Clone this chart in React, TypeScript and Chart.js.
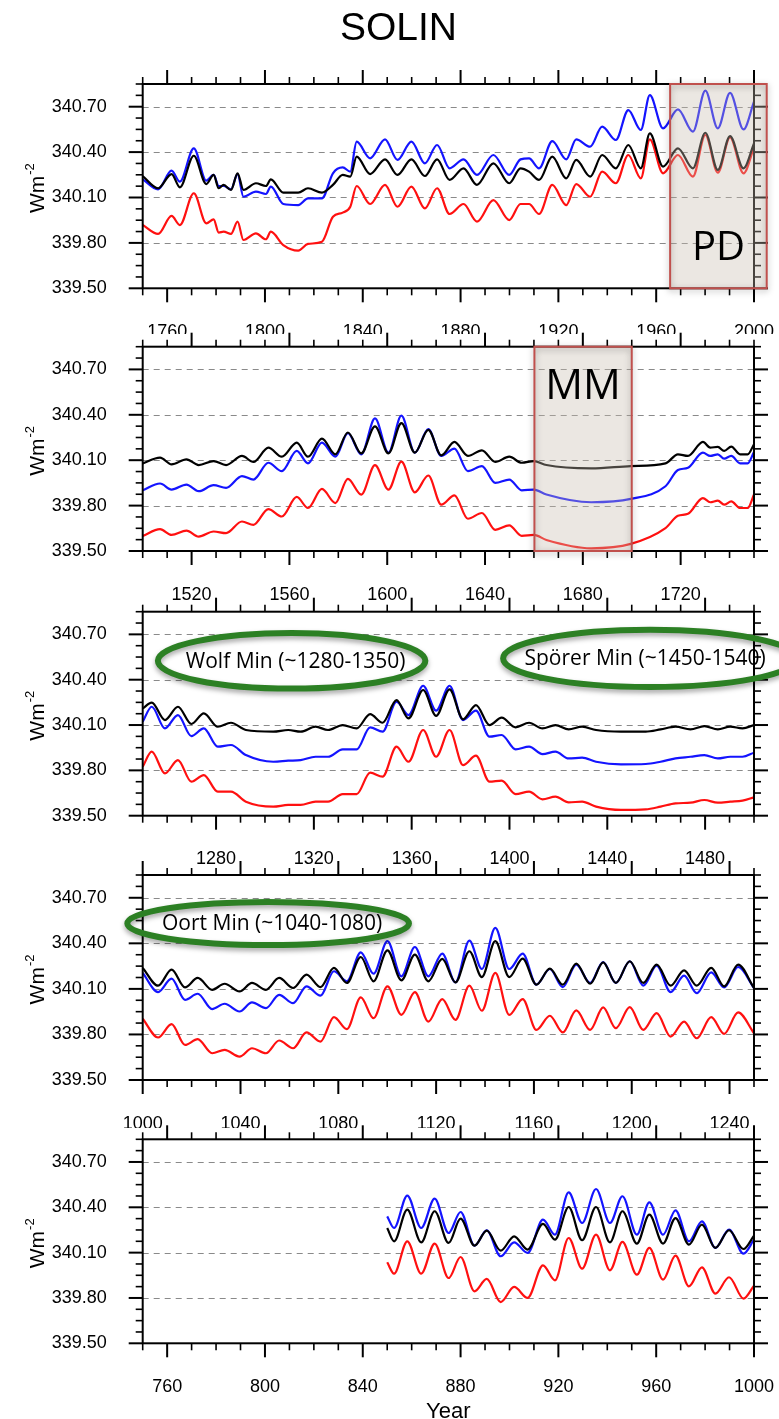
import React, { useEffect, useRef } from 'react';
import { Chart, registerables } from 'chart.js';

Chart.register(...registerables);

const FONT = "'Liberation Sans', Arial, Helvetica, sans-serif";
const CALLOUT_FONT = "'Open Sans', 'Liberation Sans', sans-serif";

// ---------- data ----------
const YEARS_P1 = [1750, 1756.3, 1761.8, 1765.2, 1770.9, 1776, 1779, 1781.1, 1783.1, 1786.1, 1788.8, 1791.2, 1796.3, 1800.4, 1802.4, 1807.5, 1813.6, 1817.6, 1823.3, 1827.8, 1831.8, 1834.9, 1837.5, 1843, 1849.1, 1854.2, 1859.9, 1865.4, 1870.4, 1875.5, 1881.2, 1886.7, 1893.4, 1899.9, 1904.5, 1908, 1912.1, 1917.5, 1923.2, 1927.3, 1933, 1937.9, 1943.5, 1948.6, 1953.7, 1957.4, 1962.8, 1968.9, 1975, 1980.1, 1985.2, 1990.2, 1995.7, 2000];
const BLUE_P1 = [340.22, 340.154, 340.277, 340.205, 340.425, 340.211, 340.249, 340.176, 340.176, 340.154, 340.255, 340.105, 340.139, 340.123, 340.172, 340.057, 340.05, 340.094, 340.094, 340.26, 340.299, 340.271, 340.469, 340.359, 340.484, 340.348, 340.469, 340.326, 340.447, 340.293, 340.352, 340.249, 340.381, 340.249, 340.352, 340.359, 340.293, 340.472, 340.352, 340.484, 340.436, 340.568, 340.48, 340.678, 340.546, 340.777, 340.557, 340.682, 340.535, 340.806, 340.557, 340.792, 340.55, 340.733];
const BLACK_P1 = [340.242, 340.161, 340.255, 340.167, 340.376, 340.189, 340.249, 340.161, 340.183, 340.15, 340.26, 340.15, 340.194, 340.176, 340.22, 340.132, 340.132, 340.161, 340.132, 340.183, 340.249, 340.238, 340.37, 340.255, 340.352, 340.249, 340.352, 340.242, 340.352, 340.216, 340.293, 340.183, 340.326, 340.194, 340.293, 340.271, 340.216, 340.37, 340.227, 340.348, 340.238, 340.381, 340.293, 340.447, 340.293, 340.524, 340.304, 340.425, 340.293, 340.528, 340.282, 340.506, 340.293, 340.458];
const RED_P1 = [339.918, 339.859, 339.978, 339.918, 340.128, 339.929, 339.956, 339.868, 339.874, 339.859, 339.94, 339.819, 339.863, 339.824, 339.874, 339.786, 339.749, 339.793, 339.808, 339.973, 340.0, 340.039, 340.176, 340.057, 340.183, 340.039, 340.172, 340.028, 340.161, 339.991, 340.057, 339.94, 340.083, 339.951, 340.057, 340.057, 339.991, 340.183, 340.05, 340.189, 340.105, 340.271, 340.194, 340.381, 340.227, 340.484, 340.26, 340.381, 340.238, 340.513, 340.264, 340.497, 340.26, 340.431];

const YEARS_P2 = [1500, 1507.1, 1511.8, 1517.9, 1522.9, 1529, 1534.1, 1540.6, 1545.3, 1551.4, 1556.9, 1563, 1567.6, 1573.3, 1578.8, 1583.9, 1589.4, 1595, 1600.5, 1605.8, 1611.3, 1616.8, 1622.1, 1627.5, 1633, 1638.7, 1644.2, 1649.9, 1655, 1660, 1665.1, 1683.4, 1699.6, 1713.8, 1718.9, 1723, 1729.1, 1732.1, 1735.2, 1737.8, 1740.7, 1744.3, 1747.4, 1750];
const BLUE_P2 = [339.901, 339.946, 339.906, 339.939, 339.895, 339.935, 339.917, 339.995, 339.972, 340.083, 340.028, 340.161, 340.079, 340.216, 340.123, 340.279, 340.139, 340.376, 340.15, 340.394, 340.15, 340.305, 340.128, 340.177, 340.028, 340.061, 339.95, 339.972, 339.901, 339.906, 339.873, 339.822, 339.844, 339.928, 340.035, 340.05, 340.15, 340.128, 340.139, 340.11, 340.128, 340.079, 340.079, 340.154];
const BLACK_P2 = [340.079, 340.117, 340.072, 340.106, 340.068, 340.094, 340.068, 340.128, 340.088, 340.183, 340.123, 340.216, 340.123, 340.243, 340.139, 340.283, 340.145, 340.323, 340.145, 340.345, 340.15, 340.301, 340.132, 340.221, 340.128, 340.165, 340.088, 340.123, 340.083, 340.094, 340.068, 340.046, 340.061, 340.079, 340.139, 340.128, 340.221, 340.183, 340.188, 340.161, 340.19, 340.139, 340.139, 340.205];
const RED_P2 = [339.6, 339.644, 339.606, 339.635, 339.595, 339.629, 339.618, 339.695, 339.673, 339.777, 339.728, 339.857, 339.784, 339.91, 339.817, 339.977, 339.873, 340.068, 339.906, 340.09, 339.888, 339.999, 339.806, 339.868, 339.713, 339.751, 339.64, 339.669, 339.6, 339.606, 339.573, 339.518, 339.547, 339.651, 339.733, 339.746, 339.85, 339.822, 339.833, 339.806, 339.828, 339.784, 339.784, 339.873];

const YEARS_P3 = [1250, 1253.7, 1259.1, 1264.4, 1269.9, 1275, 1280.7, 1286.1, 1292.2, 1303.4, 1309.5, 1314.6, 1320.7, 1325.8, 1331.8, 1337.5, 1343, 1348.1, 1353.8, 1358.7, 1364.7, 1370, 1375.5, 1381, 1386.3, 1391.8, 1396.8, 1402.5, 1408, 1413.5, 1418.8, 1424.2, 1429.7, 1435.4, 1445.6, 1455.7, 1461.8, 1467.9, 1474, 1479.7, 1485.2, 1490.3, 1495.3, 1500];
const BLUE_P3 = [340.122, 340.221, 340.078, 340.166, 340.027, 340.078, 339.957, 339.968, 339.901, 339.857, 339.864, 339.868, 339.89, 339.89, 339.939, 339.939, 340.085, 340.056, 340.254, 340.166, 340.36, 340.195, 340.36, 340.133, 340.195, 340.023, 340.034, 339.939, 339.957, 339.908, 339.924, 339.879, 339.884, 339.857, 339.84, 339.842, 339.857, 339.879, 339.89, 339.901, 339.879, 339.89, 339.89, 339.917];
const BLACK_P3 = [340.21, 340.248, 340.133, 340.221, 340.107, 340.177, 340.089, 340.115, 340.067, 340.056, 340.067, 340.056, 340.089, 340.067, 340.1, 340.078, 340.172, 340.115, 340.265, 340.144, 340.332, 340.16, 340.336, 340.138, 340.232, 340.1, 340.149, 340.085, 340.115, 340.078, 340.1, 340.071, 340.089, 340.067, 340.056, 340.056, 340.071, 340.089, 340.071, 340.093, 340.071, 340.089, 340.078, 340.1];
const RED_P3 = [339.824, 339.924, 339.78, 339.868, 339.725, 339.769, 339.659, 339.659, 339.593, 339.56, 339.571, 339.571, 339.593, 339.593, 339.643, 339.643, 339.785, 339.758, 339.957, 339.857, 340.067, 339.89, 340.067, 339.835, 339.897, 339.725, 339.732, 339.643, 339.659, 339.608, 339.626, 339.588, 339.593, 339.56, 339.538, 339.542, 339.56, 339.582, 339.586, 339.604, 339.586, 339.593, 339.6, 339.622];

const YEARS_P4 = [1000, 1006.3, 1011.8, 1017.3, 1022.5, 1028.4, 1033.5, 1039.6, 1044.7, 1050.4, 1055.8, 1061.5, 1067, 1072.7, 1078.2, 1083.5, 1089.2, 1094.4, 1100.1, 1105.8, 1111.3, 1116.8, 1122.5, 1127.9, 1133.6, 1138.7, 1144.2, 1149.9, 1155.4, 1161, 1166.5, 1171.8, 1177.3, 1183, 1188.3, 1193.5, 1199.2, 1204.7, 1210.2, 1215.9, 1221.4, 1226.6, 1232.5, 1237.8, 1243.5, 1250];
const BLUE_P4 = [340.205, 340.079, 340.167, 340.028, 340.068, 339.967, 340.002, 339.951, 340.011, 339.973, 340.061, 340.006, 340.117, 340.055, 340.216, 340.15, 340.341, 340.2, 340.414, 340.183, 340.376, 340.183, 340.332, 340.143, 340.418, 340.231, 340.502, 340.231, 340.332, 340.128, 340.231, 340.112, 340.26, 340.139, 340.277, 340.139, 340.282, 340.121, 340.253, 340.079, 340.187, 340.072, 340.209, 340.11, 340.244, 340.106];
const BLACK_P4 = [340.238, 340.121, 340.227, 340.11, 340.172, 340.094, 340.134, 340.083, 340.139, 340.094, 340.172, 340.106, 340.194, 340.112, 340.238, 340.139, 340.31, 340.15, 340.354, 340.156, 340.326, 340.15, 340.297, 340.143, 340.348, 340.178, 340.414, 340.178, 340.299, 340.128, 340.233, 340.128, 340.266, 340.134, 340.275, 340.139, 340.282, 340.139, 340.26, 340.121, 340.222, 340.121, 340.238, 340.117, 340.26, 340.106];
const RED_P4 = [339.903, 339.78, 339.868, 339.731, 339.769, 339.676, 339.698, 339.654, 339.709, 339.676, 339.76, 339.709, 339.813, 339.753, 339.914, 339.835, 340.044, 339.907, 340.117, 339.929, 340.079, 339.885, 340.033, 339.896, 340.121, 339.956, 340.205, 339.929, 340.033, 339.83, 339.923, 339.813, 339.958, 339.83, 339.978, 339.841, 339.98, 339.83, 339.94, 339.786, 339.885, 339.775, 339.914, 339.804, 339.945, 339.808];

const YEARS_P5 = [850, 852.8, 858.2, 863.9, 869.4, 875.1, 880, 885.7, 890.7, 896.4, 901.9, 907.4, 913.7, 918.6, 924.2, 929.7, 935.4, 941.1, 946.2, 952.1, 957.2, 962.8, 967.9, 973.4, 978.7, 984.2, 989.8, 995.7, 1000];
const BLUE_P5 = [340.34, 340.263, 340.477, 340.263, 340.457, 340.23, 340.369, 340.146, 340.248, 340.076, 340.168, 340.098, 340.318, 340.219, 340.499, 340.296, 340.521, 340.296, 340.473, 340.219, 340.433, 340.219, 340.38, 340.175, 340.307, 340.131, 340.252, 340.093, 340.186];
const BLACK_P5 = [340.263, 340.175, 340.385, 340.168, 340.374, 340.164, 340.325, 340.146, 340.246, 340.113, 340.208, 340.12, 340.29, 340.186, 340.402, 340.182, 340.402, 340.168, 340.374, 340.16, 340.351, 340.16, 340.329, 340.153, 340.285, 340.131, 340.248, 340.124, 340.212];
const RED_P5 = [340.036, 339.961, 340.175, 339.961, 340.16, 339.932, 340.071, 339.844, 339.926, 339.773, 339.873, 339.8, 340.016, 339.917, 340.197, 339.994, 340.219, 339.983, 340.171, 339.954, 340.131, 339.921, 340.08, 339.877, 340.003, 339.829, 339.937, 339.796, 339.882];

const Y_TICKS = [339.5, 339.8, 340.1, 340.4, 340.7];
const XTICKS_P1 = [1760, 1800, 1840, 1880, 1920, 1960, 2000];
const XTICKS_P2 = [1520, 1560, 1600, 1640, 1680, 1720];
const XTICKS_P3 = [1280, 1320, 1360, 1400, 1440, 1480];
const XTICKS_P4 = [1000, 1040, 1080, 1120, 1160, 1200, 1240];
const XTICKS_P5 = [760, 800, 840, 880, 920, 960, 1000];

const TITLE = 'SOLIN';
const Y_TITLE = 'Wm';
const Y_TITLE_SUP = '-2';
const X_TITLE = 'Year';

// ---------- layout / style ----------
const Y_MIN = 339.5;
const Y_MAX = 340.85;
const Y_MINOR = 0.075;
const X_MINOR = 10;
const W = 779;
const PLOT_LEFT = 142.7;
const PLOT_RIGHT = 754;
const COLORS = { black: '#000000', blue: '#1414ff', red: '#ff1010' };
const GREEN = 'rgb(44,128,36)';

const PANELS = [
  { years: YEARS_P1, blue: BLUE_P1, black: BLACK_P1, red: RED_P1, xMin: 1750, xMax: 2000, xTicks: XTICKS_P1,
    top: 0, height: 334, plotTop: 84, plotBottom: 288.3, title: true, xTitle: false,
    spans: [{ from: 1965.7, to: 2005.2, label: 'PD', labelValue: 339.687, size: 40 }], callouts: [] },
  { years: YEARS_P2, blue: BLUE_P2, black: BLACK_P2, red: RED_P2, xMin: 1500, xMax: 1750, xTicks: XTICKS_P2,
    top: 316, height: 284, plotTop: 346.7, plotBottom: 551, title: false, xTitle: false,
    spans: [{ from: 1660.2, to: 1700, label: 'MM', labelValue: 340.506, size: 42 }], callouts: [] },
  { years: YEARS_P3, blue: BLUE_P3, black: BLACK_P3, red: RED_P3, xMin: 1250, xMax: 1500, xTicks: XTICKS_P3,
    top: 581, height: 283, plotTop: 611.7, plotBottom: 815.7, title: false, xTitle: false, spans: [],
    callouts: [
      { text: 'Wolf Min (~1280-1350)', year: 1310.9, value: 340.525, halfYears: 54.7, halfValue: 0.184, dx: 4 },
      { text: 'Spörer Min (~1450-1540)', year: 1457.5, value: 340.541, halfYears: 60.1, halfValue: 0.189, dx: -5 },
    ] },
  { years: YEARS_P4, blue: BLUE_P4, black: BLACK_P4, red: RED_P4, xMin: 1000, xMax: 1250, xTicks: XTICKS_P4,
    top: 845, height: 283, plotTop: 875, plotBottom: 1080, title: false, xTitle: false, spans: [],
    callouts: [
      { text: 'Oort Min (~1040-1080)', year: 1051.3, value: 340.531, halfYears: 57.6, halfValue: 0.142, dx: 4 },
    ] },
  { years: YEARS_P5, blue: BLUE_P5, black: BLACK_P5, red: RED_P5, xMin: 750, xMax: 1000, xTicks: XTICKS_P5,
    top: 1109, height: 310, plotTop: 1139.3, plotBottom: 1343.3, title: false, xTitle: true, spans: [], callouts: [] },
];

type PanelCfg = (typeof PANELS)[number];

function line(ctx: CanvasRenderingContext2D, x1: number, y1: number, x2: number, y2: number) {
  ctx.beginPath();
  ctx.moveTo(x1, y1);
  ctx.lineTo(x2, y2);
  ctx.stroke();
}

function makeDecor(cfg: PanelCfg) {
  return {
    id: 'decor',
    beforeDatasetsDraw(chart: any) {
      const { ctx, chartArea: a } = chart;
      const y = chart.scales.y;
      ctx.save();
      ctx.strokeStyle = '#8a8a8a';
      ctx.lineWidth = 1;
      ctx.setLineDash([6, 5]);
      for (const v of Y_TICKS) {
        if (v <= Y_MIN + 1e-9) continue;
        const py = Math.round(y.getPixelForValue(v)) + 0.5;
        line(ctx, a.left, py, a.right, py);
      }
      ctx.restore();
    },
    afterDatasetsDraw(chart: any) {
      const { ctx, chartArea: a } = chart;
      const x = chart.scales.x;
      const y = chart.scales.y;
      for (const c of cfg.callouts) {
        const cx = x.getPixelForValue(c.year);
        const cy = y.getPixelForValue(c.value);
        const rx = Math.abs(x.getPixelForValue(c.year + c.halfYears) - cx);
        const ry = Math.abs(y.getPixelForValue(c.value + c.halfValue) - cy);
        ctx.save();
        ctx.beginPath();
        ctx.ellipse(cx, cy, rx, ry, 0, 0, Math.PI * 2);
        ctx.fillStyle = '#ffffff';
        ctx.fill();
        ctx.restore();
      }
      ctx.save();
      ctx.strokeStyle = '#000';
      ctx.lineWidth = 2;
      ctx.strokeRect(a.left, a.top, a.right - a.left, a.bottom - a.top);
      const nx = Math.round((cfg.xMax - cfg.xMin) / X_MINOR);
      for (let i = 0; i <= nx; i++) {
        const v = cfg.xMin + i * X_MINOR;
        const major = cfg.xTicks.includes(v);
        const len = major ? 14 : 7;
        ctx.lineWidth = major ? 2 : 1.6;
        const px = x.getPixelForValue(v);
        line(ctx, px, a.bottom, px, a.bottom + len);
        line(ctx, px, a.top, px, a.top - len);
      }
      const ny = Math.round((Y_MAX - Y_MIN) / Y_MINOR);
      for (let i = 0; i <= ny; i++) {
        const v = Y_MIN + i * Y_MINOR;
        const major = i % 4 === 0;
        const len = major ? 14 : 7;
        ctx.lineWidth = major ? 2 : 1.6;
        const py = y.getPixelForValue(v);
        line(ctx, a.left - len, py, a.left, py);
        line(ctx, a.right, py, a.right + len, py);
      }
      ctx.restore();
    },
    afterDraw(chart: any) {
      const { ctx, chartArea: a } = chart;
      const x = chart.scales.x;
      const y = chart.scales.y;
      for (const s of cfg.spans) {
        const x0 = x.getPixelForValue(s.from);
        const x1 = x.getPixelForValue(s.to);
        ctx.save();
        ctx.fillStyle = 'rgba(200,188,176,0.36)';
        ctx.fillRect(x0, a.top, x1 - x0, a.bottom - a.top);
        ctx.shadowColor = 'rgba(0,0,0,0.35)';
        ctx.shadowBlur = 6;
        ctx.shadowOffsetY = 2;
        ctx.strokeStyle = '#c0504d';
        ctx.lineWidth = 2;
        ctx.strokeRect(x0, a.top, x1 - x0, a.bottom - a.top);
        ctx.restore();
        ctx.save();
        ctx.fillStyle = '#000';
        ctx.font = `${s.size}px ${CALLOUT_FONT}`;
        ctx.textAlign = 'center';
        ctx.textBaseline = 'alphabetic';
        ctx.fillText(s.label, (x0 + x1) / 2, y.getPixelForValue(s.labelValue));
        ctx.restore();
      }
      for (const c of cfg.callouts) {
        const cx = x.getPixelForValue(c.year);
        const cy = y.getPixelForValue(c.value);
        const rx = Math.abs(x.getPixelForValue(c.year + c.halfYears) - cx);
        const ry = Math.abs(y.getPixelForValue(c.value + c.halfValue) - cy);
        ctx.save();
        ctx.beginPath();
        ctx.ellipse(cx, cy, rx, ry, 0, 0, Math.PI * 2);
        ctx.shadowColor = 'rgba(0,0,0,0.35)';
        ctx.shadowBlur = 5;
        ctx.shadowOffsetY = 3;
        ctx.strokeStyle = GREEN;
        ctx.lineWidth = 6;
        ctx.stroke();
        ctx.restore();
        ctx.save();
        ctx.fillStyle = '#000';
        ctx.font = `21px ${CALLOUT_FONT}`;
        ctx.textAlign = 'center';
        ctx.textBaseline = 'middle';
        ctx.fillText(c.text, cx + c.dx, cy + 1);
        ctx.restore();
      }
      ctx.save();
      ctx.translate(43.5, (a.top + a.bottom) / 2 + 2);
      ctx.rotate(-Math.PI / 2);
      ctx.fillStyle = '#000';
      ctx.textAlign = 'left';
      ctx.textBaseline = 'alphabetic';
      ctx.font = `21px ${FONT}`;
      const w1 = ctx.measureText(Y_TITLE).width;
      ctx.font = `13px ${FONT}`;
      const w2 = ctx.measureText(Y_TITLE_SUP).width;
      const start = -(w1 + w2 + 1) / 2;
      ctx.font = `21px ${FONT}`;
      ctx.fillText(Y_TITLE, start, 0);
      ctx.font = `13px ${FONT}`;
      ctx.fillText(Y_TITLE_SUP, start + w1 + 1, -10);
      ctx.restore();
      if (cfg.title) {
        ctx.save();
        ctx.fillStyle = '#000';
        ctx.font = `39px ${FONT}`;
        ctx.textAlign = 'center';
        ctx.textBaseline = 'alphabetic';
        ctx.fillText(TITLE, 398.5, 40);
        ctx.restore();
      }
      if (cfg.xTitle) {
        ctx.save();
        ctx.fillStyle = '#000';
        ctx.font = `22px ${FONT}`;
        ctx.textAlign = 'center';
        ctx.textBaseline = 'alphabetic';
        ctx.fillText(X_TITLE, (a.left + a.right) / 2, chart.height - 1);
        ctx.restore();
      }
    },
  };
}

function Panel({ cfg }: { cfg: PanelCfg }) {
  const ref = useRef<HTMLCanvasElement>(null);
  useEffect(() => {
    if (!ref.current) return;
    const bottomH = cfg.height - (cfg.plotBottom - cfg.top);
    const mk = (vals: number[], color: string) => ({
      data: cfg.years.map((yr, i) => ({ x: yr, y: vals[i] })),
      borderColor: color,
      backgroundColor: color,
      borderWidth: 2.2,
      pointRadius: 0,
      fill: false,
      cubicInterpolationMode: 'monotone' as const,
    });
    const chart = new Chart(ref.current, {
      type: 'line',
      data: {
        datasets: [mk(cfg.black, COLORS.black), mk(cfg.blue, COLORS.blue), mk(cfg.red, COLORS.red)],
      },
      options: {
        responsive: false,
        animation: false,
        events: [],
        layout: { padding: { top: cfg.plotTop - cfg.top, right: W - PLOT_RIGHT, left: 0, bottom: 0 } },
        plugins: { legend: { display: false }, tooltip: { enabled: false }, title: { display: false } },
        scales: {
          x: {
            type: 'linear',
            position: 'bottom',
            min: cfg.xMin,
            max: cfg.xMax,
            grid: { display: false },
            border: { display: false },
            ticks: {
              autoSkip: false,
              maxRotation: 0,
              padding: 25,
              color: '#000',
              font: { family: FONT, size: 18 },
              callback: (v: any) => String(v),
            },
            afterBuildTicks: (s: any) => { s.ticks = cfg.xTicks.map((v) => ({ value: v })); },
            afterFit: (s: any) => { s.height = bottomH; s.paddingLeft = 0; s.paddingRight = 0; },
          },
          y: {
            type: 'linear',
            position: 'left',
            min: Y_MIN,
            max: Y_MAX,
            grid: { display: false },
            border: { display: false },
            ticks: {
              padding: 28,
              color: '#000',
              font: { family: FONT, size: 18 },
              callback: (v: any) => Number(v).toFixed(2),
            },
            afterBuildTicks: (s: any) => { s.ticks = Y_TICKS.map((v) => ({ value: v })); },
            afterFit: (s: any) => { s.width = PLOT_LEFT; s.paddingTop = 0; s.paddingBottom = 0; },
          },
        },
      } as any,
      plugins: [makeDecor(cfg)],
    });
    return () => chart.destroy();
  }, [cfg]);
  return (
    <canvas
      ref={ref}
      width={W}
      height={cfg.height}
      style={{ position: 'absolute', left: 0, top: cfg.top, width: W, height: cfg.height, display: 'block' }}
    />
  );
}

export default function App() {
  return (
    <div style={{ position: 'absolute', left: 0, top: 0, width: W, height: 1419, background: '#fff', overflow: 'hidden' }}>
      {PANELS.map((p, i) => (
        <Panel key={i} cfg={p} />
      ))}
    </div>
  );
}
